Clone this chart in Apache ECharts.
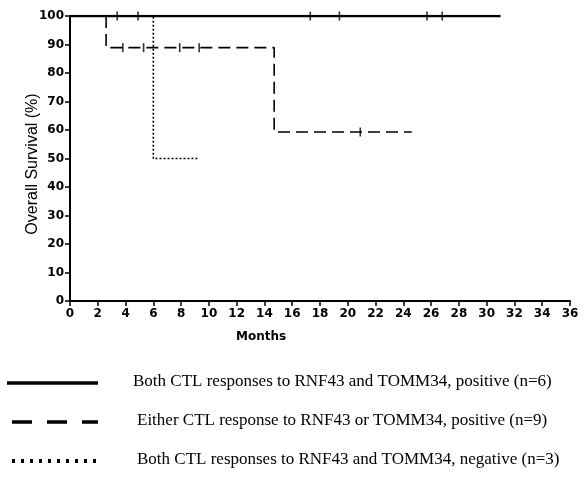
<!DOCTYPE html>
<html>
<head>
<meta charset="utf-8">
<script src="https://cdn.jsdelivr.net/npm/echarts@6/dist/echarts.min.js"></script>
<style>
  html, body { margin: 0; padding: 0; background: #fff; }
  #main { width: 584px; height: 477px; }
</style>
</head>
<body>
<div id="main"></div>
<script>
// Kaplan-Meier steps (months, survival %)
var bothPosTime = [0, 31];
var bothPosSurv = [100, 100];
var eitherPosTime = [0, 2.6, 14.7, 24.6];
var eitherPosSurv = [100, 88.9, 59.3, 59.3];
var bothNegTime = [0, 6, 9.3];
var bothNegSurv = [100, 50, 50];

// censored observations
var bothPosCensTime = [3.4, 4.9, 17.3, 19.4, 25.7, 26.8];
var bothPosCensSurv = [100, 100, 100, 100, 100, 100];
var eitherPosCensTime = [3.8, 5.3, 7.9, 9.3, 20.9];
var eitherPosCensSurv = [88.9, 88.9, 88.9, 88.9, 59.3];

var legendNames = [
  'Both CTL responses to RNF43 and TOMM34, positive (n=6)',
  'Either CTL response to RNF43 or TOMM34, positive (n=9)',
  'Both CTL responses to RNF43 and TOMM34, negative (n=3)'
];

function pairs(xs, ys) {
  return xs.map(function (x, i) { return [x, ys[i]]; });
}

var myChart = echarts.init(document.getElementById('main'));

var option = {
  animation: false,
  backgroundColor: '#fff',
  grid: { left: 70, right: 14, top: 16, bottom: 176 },
  xAxis: {
    type: 'value',
    min: 0, max: 36, interval: 2,
    axisLine: { lineStyle: { color: '#000', width: 2 } },
    axisTick: { length: 5, lineStyle: { color: '#000', width: 1.5 } },
    axisLabel: { color: '#000', fontFamily: 'DejaVu Sans', fontSize: 12, fontWeight: 'bold', margin: 7 },
    splitLine: { show: false }
  },
  yAxis: {
    type: 'value',
    min: 0, max: 100, interval: 10,
    axisLine: { show: true, lineStyle: { color: '#000', width: 2 } },
    axisTick: { show: true, length: 5, lineStyle: { color: '#000', width: 1.5 } },
    axisLabel: { color: '#000', fontFamily: 'DejaVu Sans', fontSize: 12, fontWeight: 'bold', margin: 6 },
    splitLine: { show: false }
  },
  series: [
    {
      name: legendNames[0], type: 'line', step: 'end', symbol: 'none',
      lineStyle: { color: '#000', width: 2.5, type: 'solid' },
      data: pairs(bothPosTime, bothPosSurv), z: 3
    },
    {
      name: legendNames[1], type: 'line', step: 'end', symbol: 'none',
      lineStyle: { color: '#000', width: 1.6, type: [12, 6] },
      data: pairs(eitherPosTime, eitherPosSurv), z: 2
    },
    {
      name: legendNames[2], type: 'line', step: 'end', symbol: 'none',
      lineStyle: { color: '#000', width: 1.6, type: [2, 2] },
      data: pairs(bothNegTime, bothNegSurv), z: 2
    },
    {
      type: 'scatter', symbol: 'rect', symbolSize: [1.6, 9],
      itemStyle: { color: '#000' },
      data: pairs(bothPosCensTime, bothPosCensSurv), z: 4
    },
    {
      type: 'scatter', symbol: 'rect', symbolSize: [1.6, 9],
      itemStyle: { color: '#000' },
      data: pairs(eitherPosCensTime, eitherPosCensSurv), z: 4
    }
  ],
  graphic: [
    // y axis title, rotated
    { type: 'text', x: 33, y: 164, rotation: Math.PI / 2,
      style: { text: 'Overall Survival (%)', fill: '#000', font: '16px "Liberation Sans"',
               align: 'center', verticalAlign: 'middle' } },
    { type: 'text', left: 236, top: 331,
      style: { text: 'Months', fill: '#000', font: 'bold 12px "DejaVu Sans"' } },
    { type: 'line', shape: { x1: 7, y1: 383, x2: 98, y2: 383 },
      style: { stroke: '#000', lineWidth: 3.5 } },
    { type: 'line', shape: { x1: 12, y1: 422, x2: 98, y2: 422 },
      style: { stroke: '#000', lineWidth: 3.5, lineDash: [20, 15] } },
    { type: 'line', shape: { x1: 12, y1: 461, x2: 100, y2: 461 },
      style: { stroke: '#000', lineWidth: 4, lineDash: [3, 6] } },
    { type: 'text', left: 133, top: 373,
      style: { text: legendNames[0], fill: '#000', font: '17px "Liberation Serif"' } },
    { type: 'text', left: 137, top: 412,
      style: { text: legendNames[1], fill: '#000', font: '17px "Liberation Serif"' } },
    { type: 'text', left: 137, top: 451,
      style: { text: legendNames[2], fill: '#000', font: '17px "Liberation Serif"' } }
  ]
};

myChart.setOption(option);
</script>
</body>
</html>
